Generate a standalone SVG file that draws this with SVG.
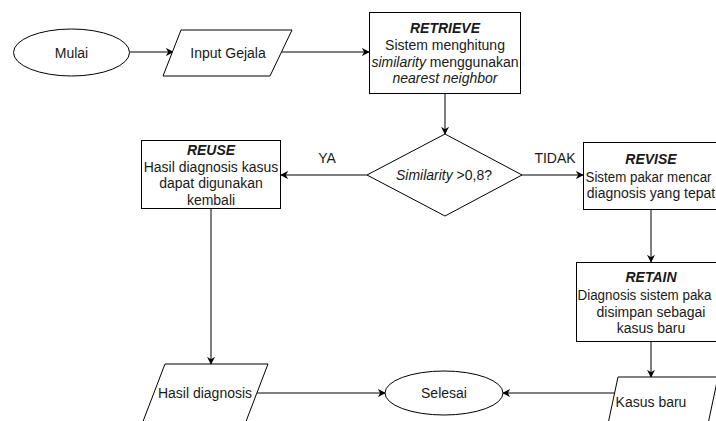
<svg xmlns="http://www.w3.org/2000/svg" width="716" height="421" viewBox="0 0 716 421">
  <style>
    .shape { fill: #ffffff; stroke: #000000; stroke-width: 1; }
    .edge { fill: none; stroke: #000000; stroke-width: 1; }
    text { font-family: "Liberation Sans", Arial, sans-serif; font-size: 14px; fill: #1a1a1a; text-anchor: middle; dominant-baseline: central; }
    .title { font-weight: bold; font-style: italic; }
    .it { font-style: italic; }
    .left { text-anchor: start; }
  </style>
  <defs>
    <marker id="arrow" viewBox="0 0 10 10" refX="9" refY="5" markerWidth="8" markerHeight="8" markerUnits="userSpaceOnUse" orient="auto">
      <path d="M0,0 L10,5 L0,10 L3,5 Z" fill="#000000"/>
    </marker>
  </defs>
  <rect width="716" height="421" fill="#ffffff"/>

  <g id="connectors">
    <line class="edge" x1="130" y1="52" x2="173" y2="52" marker-end="url(#arrow)"/>
    <line class="edge" x1="282" y1="52" x2="369" y2="52" marker-end="url(#arrow)"/>
    <line class="edge" x1="445" y1="93" x2="445" y2="134" marker-end="url(#arrow)"/>
    <line class="edge" x1="367" y1="175" x2="281" y2="175" marker-end="url(#arrow)"/>
    <line class="edge" x1="522" y1="175" x2="583" y2="175" marker-end="url(#arrow)"/>
    <line class="edge" x1="211" y1="209" x2="211" y2="364" marker-end="url(#arrow)"/>
    <line class="edge" x1="651" y1="210" x2="651" y2="262" marker-end="url(#arrow)"/>
    <line class="edge" x1="651" y1="342" x2="651" y2="377" marker-end="url(#arrow)"/>
    <line class="edge" x1="257" y1="393" x2="385" y2="393" marker-end="url(#arrow)"/>
    <line class="edge" x1="614" y1="393" x2="503" y2="393" marker-end="url(#arrow)"/>
    <text x="327" y="158">YA</text>
    <text x="555" y="158">TIDAK</text>
  </g>

  <g id="mulai">
    <ellipse class="shape" cx="71.5" cy="52.5" rx="58" ry="23.5"/>
    <text x="71.5" y="52.5">Mulai</text>
  </g>

  <g id="input-gejala">
    <polygon class="shape" points="181,30 292,30 270,76 163,76"/>
    <text x="228" y="53">Input Gejala</text>
  </g>

  <g id="retrieve">
    <rect class="shape" x="369.5" y="12.5" width="151" height="81"/>
    <text class="title" x="445" y="28">RETRIEVE</text>
    <text x="445" y="45">Sistem menghitung</text>
    <text x="445" y="62"><tspan class="it">similarity</tspan> menggunakan</text>
    <text class="it" x="445" y="78">nearest neighbor</text>
  </g>

  <g id="decision">
    <polygon class="shape" points="445,134 522,175 445,216 367,175"/>
    <text x="444" y="175"><tspan class="it">Similarity</tspan> &gt;0,8?</text>
  </g>

  <g id="reuse">
    <rect class="shape" x="141.5" y="140.5" width="139" height="68"/>
    <text class="title" x="211" y="150">REUSE</text>
    <text x="211" y="167">Hasil diagnosis kasus</text>
    <text x="211" y="183">dapat digunakan</text>
    <text x="211" y="200">kembali</text>
  </g>

  <g id="revise">
    <rect class="shape" x="583.5" y="142.5" width="136" height="67"/>
    <text class="title" x="651" y="159">REVISE</text>
    <text class="left" x="585.5" y="177" textLength="126" lengthAdjust="spacingAndGlyphs">Sistem pakar mencar</text>
    <text x="651" y="193">diagnosis yang tepat</text>
  </g>

  <g id="retain">
    <rect class="shape" x="576.5" y="262.5" width="150" height="79"/>
    <text class="title" x="651" y="277">RETAIN</text>
    <text class="left" x="577.5" y="295" textLength="134" lengthAdjust="spacingAndGlyphs">Diagnosis sistem paka</text>
    <text x="651" y="312">disimpan sebagai</text>
    <text x="651" y="328">kasus baru</text>
  </g>

  <g id="hasil-diagnosis">
    <polygon class="shape" points="165,364 268,364 245,424 142,424"/>
    <text x="205" y="393">Hasil diagnosis</text>
  </g>

  <g id="selesai">
    <ellipse class="shape" cx="444" cy="393" rx="59" ry="22"/>
    <text x="444" y="393">Selesai</text>
  </g>

  <g id="kasus-baru">
    <polygon class="shape" points="618,377 718,377 708,424 608,424"/>
    <text x="651" y="402">Kasus baru</text>
  </g>
</svg>
